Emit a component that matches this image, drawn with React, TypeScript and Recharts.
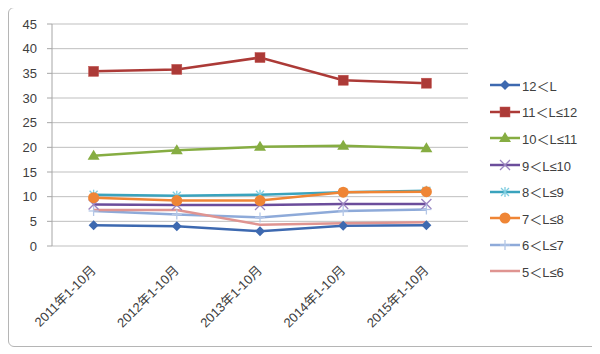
import React from 'react'
import { LineChart, Line, XAxis, YAxis, CartesianGrid } from 'recharts'

const categories = ['2011年1-10月', '2012年1-10月', '2013年1-10月', '2014年1-10月', '2015年1-10月']
const yTicks = [0, 5, 10, 15, 20, 25, 30, 35, 40, 45]

const over12 = [4.2, 4.0, 3.0, 4.1, 4.2]
const from11to12 = [35.4, 35.8, 38.2, 33.6, 33.0]
const from10to11 = [18.3, 19.4, 20.1, 20.3, 19.8]
const from9to10 = [8.4, 8.3, 8.3, 8.5, 8.5]
const from8to9 = [10.4, 10.2, 10.4, 10.9, 11.2]
const from7to8 = [9.8, 9.2, 9.2, 10.9, 11.0]
const from6to7 = [7.1, 6.4, 5.8, 7.1, 7.4]
const from5to6 = [7.3, 7.3, 4.3, 4.6, 4.8]

const series = [
  { key: 's1', name: '12＜L', values: over12, color: '#3d69b0', marker: 'diamond' },
  { key: 's2', name: '11＜L≤12', values: from11to12, color: '#ac3a37', marker: 'square' },
  { key: 's3', name: '10＜L≤11', values: from10to11, color: '#86ad42', marker: 'triangle' },
  { key: 's4', name: '9＜L≤10', values: from9to10, color: '#6b4d9b', marker: 'x' },
  { key: 's5', name: '8＜L≤9', values: from8to9, color: '#3aa3bd', marker: 'star' },
  { key: 's6', name: '7＜L≤8', values: from7to8, color: '#ef8535', marker: 'circle' },
  { key: 's7', name: '6＜L≤7', values: from6to7, color: '#8eaad9', marker: 'plus' },
  { key: 's8', name: '5＜L≤6', values: from5to6, color: '#df9491', marker: 'none' },
]

// x sits in the middle of each category band, bands run 0..5
const data = categories.map((c, i) => {
  const row: Record<string, number | string> = { x: i + 0.5, label: c }
  series.forEach((s) => (row[s.key] = s.values[i]))
  return row
})

const font = '"Liberation Sans", "Noto Sans CJK SC", sans-serif'
const textColor = '#404040'

function Marker({ type, cx, cy, color }: { type: string; cx: number; cy: number; color: string }) {
  if (cx == null || cy == null) return null
  switch (type) {
    case 'diamond':
      return <polygon points={`${cx},${cy - 5} ${cx + 5},${cy} ${cx},${cy + 5} ${cx - 5},${cy}`} fill={color} />
    case 'square':
      return <rect x={cx - 5} y={cy - 5} width={10} height={10} fill={color} stroke="#c0504d" strokeWidth={0.5} />
    case 'triangle':
      return <polygon points={`${cx},${cy - 6} ${cx + 6},${cy + 4} ${cx - 6},${cy + 4}`} fill={color} />
    case 'x':
      return (
        <g stroke="#9b84c0" strokeWidth={1.3}>
          <line x1={cx - 5} y1={cy - 5} x2={cx + 5} y2={cy + 5} />
          <line x1={cx - 5} y1={cy + 5} x2={cx + 5} y2={cy - 5} />
        </g>
      )
    case 'star':
      return (
        <g stroke="#7fcde0" strokeWidth={1.3}>
          <line x1={cx - 4} y1={cy - 4} x2={cx + 4} y2={cy + 4} />
          <line x1={cx - 4} y1={cy + 4} x2={cx + 4} y2={cy - 4} />
          <line x1={cx} y1={cy - 5} x2={cx} y2={cy + 5} />
        </g>
      )
    case 'circle':
      return <circle cx={cx} cy={cy} r={5.5} fill={color} />
    case 'plus':
      return (
        <g stroke="#b4c7e7" strokeWidth={1.3}>
          <line x1={cx - 5} y1={cy} x2={cx + 5} y2={cy} />
          <line x1={cx} y1={cy - 5} x2={cx} y2={cy + 5} />
        </g>
      )
    default:
      return null
  }
}

function XTick(props: any) {
  const { x, y, payload } = props
  const i = Math.floor(payload.value)
  const tx = x + 3
  const ty = y + 17
  return (
    <text
      x={tx}
      y={ty}
      transform={`rotate(-45, ${tx}, ${ty})`}
      textAnchor="end"
      fontSize={13}
      fontFamily={font}
      fill={textColor}
    >
      {categories[i]}
    </text>
  )
}

function LegendBox() {
  return (
    <div style={{ position: 'absolute', left: 480, top: 64, fontFamily: font, fontSize: 13, color: textColor }}>
      {series.map((s) => (
        <div key={s.key} style={{ display: 'flex', alignItems: 'center', height: 26.6 }}>
          <svg width={32} height={14}>
            <line x1={1} y1={7} x2={31} y2={7} stroke={s.color} strokeWidth={2.5} />
            <Marker type={s.marker} cx={16} cy={7} color={s.color} />
          </svg>
          <span style={{ marginLeft: 1 }}>{s.name}</span>
        </div>
      ))}
    </div>
  )
}

export default function App() {
  return (
    <div
      style={{
        position: 'relative',
        width: 590,
        height: 340,
        border: '1.5px solid #b5b5b5',
        borderRadius: 6,
        boxSizing: 'border-box',
        marginTop: -1,
      }}
    >
      <div style={{ position: 'absolute', left: -1.5, top: -1.5 }}>
        <LineChart width={590} height={340} data={data} margin={{ top: 17, right: 130, bottom: 11, left: 0 }}>
          <CartesianGrid vertical={false} stroke="#bfbfbf" strokeWidth={1} />
          <XAxis
            xAxisId="bounds"
            type="number"
            dataKey="x"
            domain={[0, 5]}
            ticks={[0, 1, 2, 3, 4, 5]}
            tick={false}
            tickSize={5}
            height={0}
            stroke="#a6a6a6"
          />
          <XAxis
            xAxisId="labels"
            type="number"
            dataKey="x"
            domain={[0, 5]}
            ticks={[0.5, 1.5, 2.5, 3.5, 4.5]}
            axisLine={false}
            tickLine={false}
            tick={<XTick />}
            height={90}
            interval={0}
          />
          <YAxis
            domain={[0, 45]}
            ticks={yTicks}
            width={44}
            tickSize={5}
            tickMargin={10}
            stroke="#a6a6a6"
            tick={{ fontSize: 13, fontFamily: font, fill: textColor }}
            interval={0}
          />
          {series.map((s) => (
            <Line
              key={s.key}
              xAxisId="labels"
              dataKey={s.key}
              name={s.name}
              stroke={s.color}
              strokeWidth={2.5}
              isAnimationActive={false}
              dot={(p: any) => <Marker key={`${s.key}-${p.index}`} type={s.marker} cx={p.cx} cy={p.cy} color={s.color} />}
              activeDot={false}
            />
          ))}
        </LineChart>
      </div>
      <LegendBox />
    </div>
  )
}
